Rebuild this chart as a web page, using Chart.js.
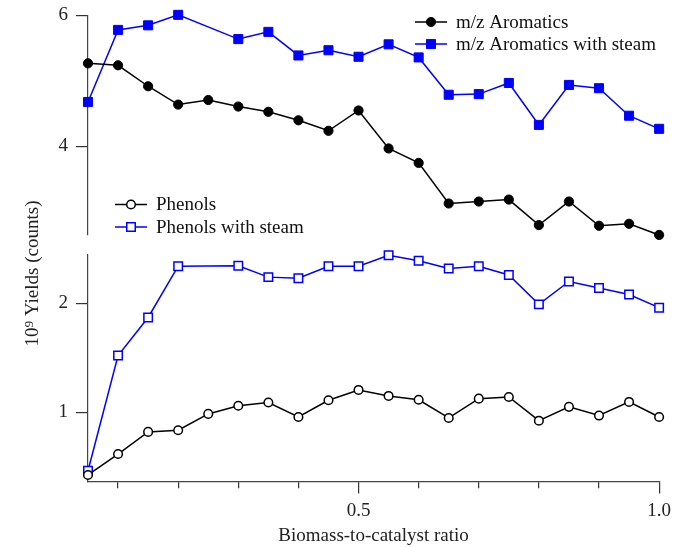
<!DOCTYPE html>
<html><head><meta charset="utf-8">
<script src="https://cdn.jsdelivr.net/npm/chart.js@4"></script>
<style>html,body{margin:0;padding:0;background:#fff;overflow:hidden}#wrap{position:relative;width:677px;height:547px}</style>
</head><body><div id="wrap"><canvas id="c" width="677" height="547"></canvas></div>
<script>
// ---- data ----
const ratios = [0.05,0.10,0.15,0.20,0.25,0.30,0.35,0.40,0.45,0.50,0.55,0.60,0.65,0.70,0.75,0.80,0.85,0.90,0.95,1.00];
const aromatics = [5.27,5.24,4.92,4.64,4.71,4.61,4.53,4.40,4.24,4.55,3.97,3.75,3.13,3.16,3.19,2.80,3.16,2.79,2.82,2.65];
const aromaticsSteam = [4.68,5.78,5.85,6.01,null,5.64,5.75,5.39,5.47,5.37,5.56,5.36,4.79,4.80,4.97,4.33,4.94,4.89,4.47,4.27];
const phenols = [0.425,0.617,0.82,0.835,0.985,1.06,1.09,0.957,1.11,1.205,1.15,1.115,0.948,1.125,1.14,0.923,1.05,0.97,1.095,0.957];
const phenolsSteam = [0.464,1.52,1.87,2.34,null,2.345,2.24,2.23,2.34,2.34,2.44,2.39,2.32,2.34,2.26,1.99,2.20,2.14,2.08,1.96];
const seriesNames = ['m/z Aromatics','m/z Aromatics with steam','Phenols','Phenols with steam'];
const xTickValues = [0.1,0.2,0.3,0.4,0.5,0.6,0.7,0.8,0.9,1.0];
const xLabelValues = [0.5,1.0];
const xLabelTexts = ['0.5','1.0'];
const topTicks = [4,6];
const bottomTicks = [1,2];
const xTitle = 'Biomass-to-catalyst ratio';
const yTitle = '10\u2079 Yields (counts)';

// ---- styling ----
const FONT = "'Liberation Serif','Times New Roman',serif";
const BLUE = '#0000ff';
const Y_W = 43.6;
const labelIndex = v => xLabelValues.findIndex(l => Math.abs(l - v) < 1e-9);
const pts = ys => ratios.map((x, i) => ({x, y: ys[i]}));

const axisGrid = {display:true, drawOnChartArea:false, drawTicks:true, tickLength:12, color:'#333', tickColor:'#333', lineWidth:1.2};
const axisBorder = {display:true, color:'#444', width:1.2};
const tickFont = {family:FONT, size:19};

function drawMarker(ctx, ds, x, y){
  const r = ds.pointRadius;
  ctx.save();
  ctx.fillStyle = ds.pointBackgroundColor;
  ctx.strokeStyle = ds.borderColor;
  ctx.lineWidth = ds.pointBorderWidth;
  ctx.beginPath();
  if (ds.pointStyle === 'rect') {
    const s = r * Math.SQRT1_2;
    ctx.rect(x - s, y - s, 2 * s, 2 * s);
  } else {
    ctx.arc(x, y, r, 0, Math.PI * 2);
  }
  ctx.fill(); ctx.stroke();
  ctx.restore();
}

const groupLegend = {
  id:'groupLegend',
  afterDraw(chart, args, opts){
    const ctx = chart.ctx;
    ctx.save();
    ctx.font = '19px ' + FONT;
    ctx.textBaseline = 'middle';
    opts.groups.forEach(g => {
      g.items.forEach((di, k) => {
        const ds = chart.data.datasets[di];
        const y = g.y + k * g.spacing;
        ctx.strokeStyle = ds.borderColor; ctx.lineWidth = ds.borderWidth;
        ctx.beginPath(); ctx.moveTo(g.x, y); ctx.lineTo(g.x + g.lineLen, y); ctx.stroke();
        drawMarker(ctx, ds, g.x + g.lineLen / 2, y);
        ctx.fillStyle = '#111';
        ctx.fillText(ds.label, g.x + g.textOffset, y + 1);
      });
    });
    ctx.restore();
  }
};

new Chart(document.getElementById('c'), {
  type:'line',
  data:{datasets:[
    {label:seriesNames[0], data:pts(aromatics), yAxisID:'yTop', borderColor:'#000', backgroundColor:'#000', pointBackgroundColor:'#000', pointStyle:'circle', pointRadius:4.6, pointBorderWidth:1, borderWidth:1.5, clip:false},
    {label:seriesNames[1], data:pts(aromaticsSteam), yAxisID:'yTop', borderColor:BLUE, backgroundColor:BLUE, pointBackgroundColor:BLUE, pointStyle:'rect', pointRadius:6.4, pointBorderWidth:1, borderWidth:1.5, clip:false},
    {label:seriesNames[2], data:pts(phenols), yAxisID:'yBot', borderColor:'#000', backgroundColor:'#fff', pointBackgroundColor:'#fff', pointStyle:'circle', pointRadius:4.3, pointBorderWidth:1.5, borderWidth:1.5, clip:false},
    {label:seriesNames[3], data:pts(phenolsSteam), yAxisID:'yBot', borderColor:BLUE, backgroundColor:'#fff', pointBackgroundColor:'#fff', pointStyle:'rect', pointRadius:6.0, pointBorderWidth:1.5, borderWidth:1.5, clip:false}
  ]},
  plugins:[groupLegend],
  options:{
    responsive:false, animation:false, spanGaps:true,
    layout:{padding:{top:0,left:0,right:14,bottom:0}},
    elements:{line:{tension:0}},
    plugins:{
      legend:{display:false}, tooltip:{enabled:false},
      title:{display:true, text:yTitle, position:'left', color:'#222', font:{family:FONT, size:19, weight:'normal', lineHeight:1.2}, padding:{top:21.6, bottom:0}},
      groupLegend:{groups:[
        {items:[0,1], x:415, y:22, spacing:22, lineLen:32, textOffset:41},
        {items:[2,3], x:115, y:204.5, spacing:22.5, lineLen:32, textOffset:41}
      ]}
    },
    scales:{
      x:{type:'linear', position:'bottom', min:0.05, max:1.0,
        afterBuildTicks:s => { s.ticks = xTickValues.map(v => ({value:v})); },
        afterFit:s => { s.height = 65.5; },
        border:axisBorder,
        grid:Object.assign({}, axisGrid, {tickBorderDash: c => (c.tick && labelIndex(c.tick.value) >= 0) ? [] : [6, 60]}),
        ticks:{autoSkip:false, maxRotation:0, padding:6, color:'#222', font:tickFont,
          callback:v => { const i = labelIndex(v); return i >= 0 ? xLabelTexts[i] : ''; }},
        title:{display:true, text:xTitle, color:'#222', font:{family:FONT, size:19}, padding:{top:0, bottom:0}}
      },
      yTop:{type:'linear', position:'left', stack:'panels', stackWeight:219.5, weight:3, min:2.649, max:6.0,
        afterBuildTicks:s => { s.ticks = topTicks.map(v => ({value:v})); },
        afterFit:s => { s.width = Y_W; s.paddingTop = 15.5; s.paddingBottom = 0; },
        border:axisBorder, grid:axisGrid,
        ticks:{padding:8, color:'#222', font:tickFont}
      },
      yGap:{type:'linear', position:'left', stack:'panels', stackWeight:20, weight:2,
        afterFit:s => { s.width = Y_W; s.paddingTop = 0; s.paddingBottom = 0; },
        border:{display:false}, grid:{display:false}, ticks:{display:false}
      },
      yBot:{type:'linear', position:'left', stack:'panels', stackWeight:226.5, weight:1, min:0.365, max:2.443,
        afterBuildTicks:s => { s.ticks = bottomTicks.map(v => ({value:v})); },
        afterFit:s => { s.width = Y_W; s.paddingTop = 0; s.paddingBottom = 0; },
        border:axisBorder, grid:axisGrid,
        ticks:{padding:8, color:'#222', font:tickFont}
      }
    }
  }
});
</script></body></html>
